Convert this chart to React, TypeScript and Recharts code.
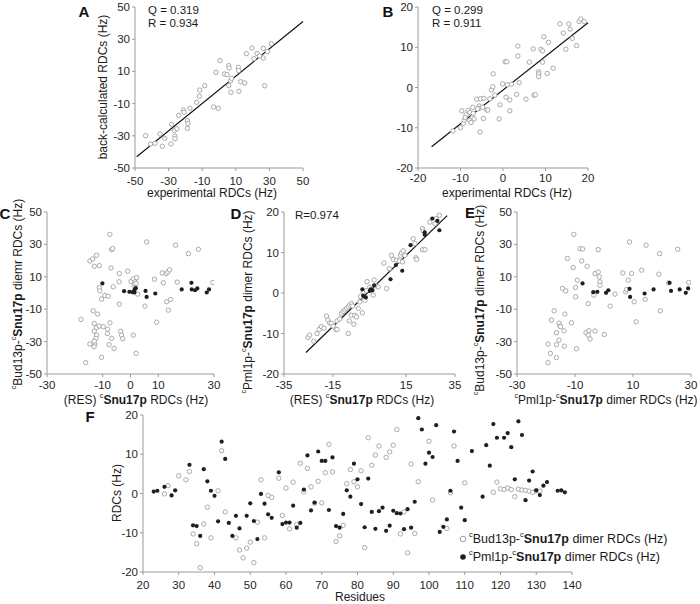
import React from 'react';
import { ScatterChart, Scatter, XAxis, YAxis, ReferenceLine } from 'recharts';

// ---------- DATA ----------
// Panel A: experimental vs back-calculated RDCs (Hz)
const panelAPoints = [
  [-43.7, -29.9], [-40.7, -35.1], [-38.1, -34.7], [-35.1, -28.9], [-33.7, -36.5], [-32.3, -31.6],
  [-28.6, -35.1], [-28.2, -22.9], [-26.6, -26.8], [-26.2, -30.3], [-26.2, -31.8], [-25.0, -25.6],
  [-24.0, -17.3], [-21.2, -14.0], [-20.8, -15.4], [-18.8, -20.6], [-18.5, -22.3], [-18.8, -25.4],
  [-17.3, -12.9], [-13.3, -9.2], [-11.7, -5.5], [-11.5, -1.6], [-8.5, 1.1], [-3.2, -12.1],
  [-0.4, -12.9], [-1.8, 9.4], [0.6, 16.7], [3.2, 8.4], [4.8, 8.0], [5.8, 13.6], [6.0, 12.1],
  [5.8, 1.1], [7.1, -3.0], [6.9, 4.2], [7.5, 5.7], [11.5, 12.5], [11.7, 10.5], [11.9, -2.4],
  [12.9, 3.6], [15.3, 2.8], [16.3, 21.0], [19.6, 24.5], [20.8, 17.9], [22.6, 21.2], [24.2, 19.6],
  [26.4, 24.3], [26.4, 18.3], [27.2, 1.1], [28.8, 22.3], [31.2, 27.2],
];
const fitA = [[-49, -43], [50, 41]];
const ticksA = [-50, -30, -10, 10, 30, 50];

// Panel B
const panelBPoints = [
  [-11.8, -10.8], [-10.0, -10.0], [-9.3, -8.9], [-9.1, -8.1], [-9.7, -5.8], [-8.7, -6.8], [-8.9, -7.5],
  [-8.2, -5.7], [-7.8, -6.2], [-7.8, -8.1], [-7.5, -8.7], [-7.2, -7.4], [-7.1, -4.9], [-6.8, -7.8],
  [-6.2, -2.9], [-5.6, -4.6], [-5.6, -5.2], [-5.4, -11.1], [-5.3, -2.8], [-4.6, -7.7], [-4.5, -2.7],
  [-4.8, -4.9], [-3.8, -5.6], [-3.6, -5.6], [-3.1, -2.8], [-2.7, -0.6], [-2.4, 0.2], [-2.3, 3.4],
  [-1.9, -1.9], [-0.9, -7.8], [-0.7, -4.3], [-0.1, 0.9], [0.5, 6.4], [0.9, 6.4], [0.7, -2.4],
  [1.0, 0.7], [1.6, -3.1], [1.6, -5.8], [2.0, 0.8], [3.2, -1.7], [3.5, 7.8], [3.5, 10.3], [3.8, 1.2],
  [5.4, -2.9], [6.2, 6.3], [7.1, 9.6], [7.3, -1.9], [7.6, -1.8], [8.4, 3.9], [8.4, 3.4], [8.4, 2.7],
  [8.9, 9.5], [9.3, 9.1], [9.3, 6.3], [9.6, 12.6], [10.4, 3.5], [10.7, 11.2], [11.8, 4.8], [13.4, 15.8],
  [14.2, 13.5], [14.8, 9.5], [15.5, 15.8], [15.8, 14.5], [16.3, 12.2], [17.3, 10.4], [17.9, 16.4],
  [18.3, 17.0], [19.1, 16.4], [-7.0, -6.4], [-6.0, -5.3],
];
const fitB = [[-16.8, -14.7], [20, 16.1]];
const ticksB = [-20, -10, 0, 10, 20];

// Panel C
const panelCGray = [
  [-17.8, -16.3], [-14.6, 19.8], [-13.6, 21.0], [-12.2, 23.3], [-13.0, 16.5], [-11.2, 16.9], [-11.2, 3.2],
  [-11.0, 1.3], [-10.4, -3.8], [-13.4, -11.0], [-11.8, -13.0], [-14.6, -31.5], [-12.8, -31.5],
  [-13.0, -23.5], [-12.2, -21.3], [-13.0, -18.8], [-11.2, -20.4], [-9.8, -20.8], [-12.2, -26.0],
  [-12.4, -28.0], [-13.0, -29.7], [-13.1, -33.2], [-10.4, -39.7], [-16.1, -43.0], [-9.2, -1.5],
  [-8.0, -2.0], [-7.4, 36.2], [-6.8, 26.8], [-6.4, 27.4], [-7.0, 15.5], [-6.2, 3.8], [-7.4, -18.4],
  [-8.3, -25.0], [-8.2, -22.3], [-7.7, -31.9], [-6.8, -28.0], [-5.9, -34.2], [-4.0, 12.0], [-4.1, 6.9],
  [-4.0, -6.9], [-3.5, -23.7], [-3.2, -26.0], [-2.8, -28.2], [-1.0, 13.5], [0.2, 7.1], [1.0, 8.7],
  [1.6, 6.9], [1.3, 5.4], [1.6, 3.4], [2.2, 9.5], [2.0, 5.9], [2.6, -0.7], [1.0, -26.0], [2.0, -37.3],
  [5.8, 31.5], [5.2, -8.1], [8.6, 8.5], [9.4, -18.0], [11.8, 6.3], [11.4, 12.4], [12.8, 12.0],
  [13.4, 13.0], [14.0, 14.3], [16.2, 29.5], [16.8, 6.7], [13.0, -5.4], [13.6, -10.6], [14.4, -4.0],
  [20.8, 24.3], [24.4, 27.0], [29.6, 6.5],
];
const panelCBlack = [
  [-10.1, 5.9], [-2.3, 1.1], [-0.4, 0.7], [0.8, 0.5], [1.3, 1.3], [1.6, 2.4], [1.9, 3.0], [1.4, 0.3],
  [5.4, 1.3], [5.8, -2.4], [8.9, -0.3], [18.4, 2.2], [21.9, 6.3], [22.0, 2.2], [23.2, 1.7], [24.0, 2.8],
  [27.4, 0.3], [28.2, 2.2],
];
const ticksCX = [-30, -10, 0, 10, 30];
const ticksCY = [-50, -30, -10, 10, 30, 50];

// Panel D
const panelDGray = [
  [-25.2, -11.0], [-24.5, -10.4], [-22.8, -11.9], [-21.5, -10.0], [-20.6, -9.0], [-19.7, -8.3],
  [-18.6, -8.7], [-17.6, -5.7], [-17.0, -6.7], [-16.3, -7.4], [-15.6, -7.5], [-14.9, -8.2], [-13.8, -9.0],
  [-13.3, -9.0], [-13.3, -6.9], [-12.2, -6.4], [-11.5, -5.1], [-10.8, -4.6], [-10.1, -4.2], [-9.4, -3.8],
  [-8.7, -3.4], [-8.1, -3.0], [-7.4, -2.6], [-7.0, -3.2], [-8.7, -10.0], [-8.3, -6.9], [-7.4, -5.5],
  [-6.4, -7.7], [-6.0, -5.5], [-5.3, -5.9], [-4.6, -3.8], [-4.0, -2.2], [-3.7, -0.9], [-2.9, -4.9],
  [-2.6, 0.3], [-1.9, -1.8], [-1.2, 0.6], [-1.0, 2.8], [0.1, 1.4], [0.8, 0.8], [1.5, -0.5], [1.9, 3.2],
  [2.9, 1.7], [3.6, 1.5], [5.9, 7.4], [7.0, 1.1], [8.1, 6.0], [9.0, 9.3], [9.7, 8.3], [11.1, 8.1],
  [12.2, 7.9], [12.7, 9.3], [13.1, 9.9], [13.5, 7.7], [13.8, 10.4], [14.5, 9.3], [17.9, 13.4],
  [18.6, 12.2], [19.0, 8.7], [19.3, 8.3], [21.7, 10.7], [22.7, 10.7], [21.7, 15.9], [22.0, 15.3],
  [24.7, 17.5], [26.8, 17.1], [28.6, 19.2], [27.2, 18.4],
];
const panelDBlack = [
  [-2.9, 0.9], [-2.6, -0.7], [-1.5, -1.1], [0.1, 0.5], [0.5, 0.9], [1.2, 0.7], [1.9, 1.9], [8.6, 3.4],
  [10.8, 6.9], [13.4, 5.5], [16.8, 11.8], [22.6, 15.0], [22.6, 14.4], [25.7, 18.4], [27.8, 17.8],
  [28.6, 15.5],
];
const fitD = [[-26, -14.7], [31.8, 19.1]];
const ticksDX = [-35, -15, 15, 35];
const ticksDY = [-20, -10, 0, 10, 20];

// Panel E
const panelEGray = [
  [-19.3, -31.5], [-18.5, -37.3], [-19.3, -43.0], [-18.1, -16.7], [-17.2, -11.0], [-16.4, -24.5],
  [-16.4, -31.9], [-15.5, -29.1], [-15.5, -18.6], [-15.2, -20.4], [-15.0, -20.8], [-16.4, -39.9],
  [-14.3, 2.8], [-13.2, 1.3], [-13.8, -23.3], [-13.7, -32.8], [-13.5, -13.0], [-12.6, 21.3],
  [-11.2, -18.4], [-10.6, 15.7], [-10.4, 36.2], [-9.8, -2.4], [-9.8, 3.4], [-9.5, -34.4], [-9.2, 7.9],
  [-8.3, 27.4], [-7.7, 19.8], [-7.4, 27.2], [-6.2, -24.5], [-5.8, 16.5], [-5.4, -6.5], [-5.4, -26.0],
  [-5.2, -23.3], [-4.8, -28.4], [-3.1, -23.5], [-3.5, -1.3], [-3.1, 12.0], [-2.0, 13.0], [-2.0, 26.8],
  [-1.6, 9.9], [-1.4, 6.9], [-1.4, 4.8], [0.1, -25.6], [2.1, -8.1], [3.8, -0.7], [6.5, 12.4], [7.5, 0.7],
  [8.4, 7.9], [8.8, 31.5], [9.5, 12.0], [10.4, -5.4], [11.1, -17.8], [13.0, 14.1], [14.2, -3.9],
  [14.5, 29.5], [18.9, 11.6], [19.2, 24.3], [19.4, -11.0], [22.3, 6.3], [25.4, 27.0], [29.2, 6.5],
  [7.8, 2.2],
];
const panelEBlack = [
  [-7.4, 5.9], [-3.7, 0.5], [-2.3, 0.7], [0.7, 0.1], [1.5, 1.7], [8.8, 2.6], [9.0, -2.4], [14.0, -0.3],
  [17.1, 2.2], [22.6, 6.3], [23.1, 1.3], [26.1, 2.2], [28.2, 0.1], [29.0, 2.8],
];
const ticksEX = [-30, -10, 10, 30];
const ticksEY = [-50, -30, -10, 10, 30, 50];

// Panel F: residue vs RDC
const residuesBud13 = [
  [26, -0.1], [27, 2.0], [30, 4.5], [32, 3.5], [33, 5.6], [34, -10.3], [35, -12.8], [36, -18.9], [37, -7.8],
  [38, -3.5], [39, -11.3], [41, 0.7], [42, 10.9], [43, -4.7], [46, -11.3], [47, -14.4], [48, -16.4],
  [49, -13.9], [50, -12.4], [51, -17.6], [52, -7.3], [53, 3.5], [54, -11.3], [55, -0.5], [56, -1.0],
  [58, 3.9], [59, -5.6], [60, 1.4], [61, -9.0], [62, 2.9], [63, -7.9], [64, 7.7], [65, 0.4], [66, 6.4],
  [67, 1.7], [68, -2.5], [69, 3.1], [70, -2.4], [71, 5.3], [72, 12.5], [73, 5.5], [74, -12.2], [75, -10.8],
  [76, -8.1], [77, 2.5], [78, 6.1], [79, 3.0], [80, 1.7], [81, 5.8], [82, -13.8], [83, 14.2], [84, 7.2],
  [85, 9.8], [86, 12.1], [88, 9.2], [89, 10.6], [90, 12.3], [91, 16.3], [92, -10.3], [93, -4.7],
  [94, -15.1], [95, 7.5], [96, -10.2], [97, 3.0], [100, 13.3], [101, -1.7], [105, -8.9], [106, 0.2],
  [107, 12.1], [110, 2.7], [118, 0.3], [119, 2.9], [120, 1.2], [121, 1.0], [122, 1.4], [123, 1.0],
  [124, -0.8], [125, 1.1], [126, 0.9], [127, 0.8], [128, 0.6], [129, 0.3], [130, 0.7], [131, 0.6],
];
const residuesPml1 = [
  [23, 0.5], [24, 0.7], [26, 1.7], [28, -0.5], [29, 0.8], [33, 7.3], [34, -8.1], [35, -8.3], [36, -10.8],
  [37, 6.2], [38, 3.1], [39, 0.7], [40, -0.6], [41, -7.1], [42, 13.2], [43, 8.8], [44, -7.5], [45, -10.8],
  [46, -5.7], [47, -8.9], [49, -5.7], [50, -2.5], [51, -7.0], [52, -11.6], [53, -0.1], [54, -2.6],
  [55, -5.3], [56, -6.2], [58, 5.4], [59, -7.8], [60, -7.4], [61, -7.4], [62, -3.1], [63, -8.7],
  [64, -7.5], [65, 1.0], [66, 9.7], [67, -4.3], [68, -2.3], [69, 10.7], [70, 8.3], [71, 8.3], [72, -4.2],
  [73, 9.2], [74, -8.3], [75, -8.7], [76, -5.2], [77, 0.8], [78, -0.8], [79, 7.6], [80, 3.6], [81, -2.7],
  [82, -8.6], [83, 3.8], [84, -4.7], [85, -9.0], [86, -4.5], [87, -3.6], [88, -9.5], [89, -8.2],
  [90, -4.4], [91, -5.0], [92, -5.1], [93, -9.1], [94, -4.0], [95, -8.7], [96, -2.1], [97, 19.2],
  [98, 16.3], [99, 7.6], [100, 10.4], [101, 9.3], [102, 17.4], [103, -9.8], [104, -8.5], [105, -6.6],
  [106, 0.7], [107, 15.8], [108, 8.3], [109, -3.6], [110, -6.8], [112, 10.8], [115, -0.8], [116, 12.3],
  [117, 7.1], [118, 17.7], [119, 14.2], [121, 14.2], [122, 15.4], [123, 11.8], [124, 3.6], [125, 18.4],
  [126, 14.9], [127, -1.7], [128, 3.3], [129, 5.6], [130, 0.8], [131, -0.4], [132, 2.0], [133, 2.9],
  [136, 0.7], [137, 0.8], [138, 0.3],
];
const ticksFX = [20, 30, 40, 50, 60, 70, 80, 90, 100, 110, 120, 130, 140];
const ticksFY = [-20, -10, 0, 10, 20];

// ---------- STYLE ----------
const FONT = '"Liberation Sans", Arial, Helvetica, sans-serif';
const AXIS = '#9a9a9a';
const TICK_FS = 11.5;
const TITLE_FS = 12;
const W = 700;
const H = 604;

const toPts = (arr: number[][]) => arr.map(([x, y]) => ({ x, y }));
const toSeg = (arr: number[][]) => arr.map(([x, y]) => ({ x, y }));

const GrayDot = (p: any) => (
  <circle cx={p.cx} cy={p.cy} r={2.2} fill="#ffffff" stroke="#a0a0a0" strokeWidth={0.9} />
);
const BlackDot = (p: any) => <circle cx={p.cx} cy={p.cy} r={2.1} fill="#1f1f1f" />;

type PanelProps = {
  box: [number, number, number, number];
  xDomain: [number, number];
  yDomain: [number, number];
  xTicks: number[];
  yTicks: number[];
  gray?: number[][];
  black?: number[][];
  fit?: number[][];
  xTickMargin: number;
};

function Panel({ box, xDomain, yDomain, xTicks, yTicks, gray, black, fit, xTickMargin }: PanelProps) {
  const [x0, y0, x1, y1] = box;
  const yW = 40;
  const xH = 30;
  return (
    <div style={{ position: 'absolute', left: 0, top: 0, pointerEvents: 'none' }}>
      <ScatterChart
        width={W}
        height={H}
        margin={{ left: x0 - yW, top: y0, right: W - x1, bottom: H - y1 - xH }}
      >
        <XAxis
          type="number"
          dataKey="x"
          domain={xDomain}
          ticks={xTicks}
          interval={0}
          allowDataOverflow
          height={xH}
          axisLine={{ stroke: AXIS }}
          tickLine={{ stroke: AXIS }}
          tickSize={3}
          tickMargin={xTickMargin}
          tick={{ fontSize: TICK_FS, fill: '#262626', fontFamily: FONT }}
        />
        <YAxis
          type="number"
          dataKey="y"
          domain={yDomain}
          ticks={yTicks}
          interval={0}
          allowDataOverflow
          width={yW}
          axisLine={{ stroke: AXIS }}
          tickLine={{ stroke: AXIS }}
          tickSize={3}
          tickMargin={2}
          tick={{ fontSize: TICK_FS, fill: '#262626', fontFamily: FONT }}
        />
        {gray && (
          <Scatter data={toPts(gray)} shape={GrayDot} isAnimationActive={false} />
        )}
        {black && (
          <Scatter data={toPts(black)} shape={BlackDot} isAnimationActive={false} />
        )}
        {fit && (
          <ReferenceLine
            segment={toSeg(fit) as any}
            stroke="#111111"
            strokeWidth={1.2}
            ifOverflow="visible"
          />
        )}
      </ScatterChart>
    </div>
  );
}

// rich text with superscript "c" and bold parts
type Part = { t: string; sup?: boolean; b?: boolean };
function Rich({ parts, fs }: { parts: Part[]; fs: number }) {
  const shift = fs * 0.38;
  let raised = false;
  const out: React.ReactNode[] = [];
  parts.forEach((p, i) => {
    let dy = 0;
    if (p.sup && !raised) {
      dy = -shift;
      raised = true;
    } else if (!p.sup && raised) {
      dy = shift;
      raised = false;
    }
    out.push(
      <tspan
        key={i}
        dy={dy}
        fontSize={p.sup ? fs * 0.6 : fs}
        fontWeight={p.b ? 'bold' : 'normal'}
      >
        {p.t}
      </tspan>
    );
  });
  return <>{out}</>;
}

const budSnu = (dimerWord: string): Part[] => [
  { t: 'c', sup: true },
  { t: 'Bud13p-' },
  { t: 'c', sup: true },
  { t: 'Snu17p', b: true },
  { t: ` ${dimerWord} RDCs (Hz)` },
];
const pmlSnu: Part[] = [
  { t: 'c', sup: true },
  { t: 'Pml1p-' },
  { t: 'c', sup: true },
  { t: 'Snu17p', b: true },
  { t: ' dimer RDCs (Hz)' },
];
const resSnu: Part[] = [
  { t: '(RES) ' },
  { t: 'c', sup: true },
  { t: 'Snu17p', b: true },
  { t: ' RDCs (Hz)' },
];

function HText({ x, y, parts, fs = TITLE_FS, anchor = 'middle' }: any) {
  return (
    <text x={x} y={y} textAnchor={anchor} dominantBaseline="central" fontSize={fs} fill="#1a1a1a" fontFamily={FONT}>
      <Rich parts={parts} fs={fs} />
    </text>
  );
}
function VText({ x, y, parts, fs = TITLE_FS }: any) {
  return (
    <text
      x={x}
      y={y}
      transform={`rotate(-90 ${x} ${y})`}
      textAnchor="middle"
      dominantBaseline="central"
      fontSize={fs}
      fill="#1a1a1a"
      fontFamily={FONT}
    >
      <Rich parts={parts} fs={fs} />
    </text>
  );
}
function Letter({ x, y, t }: { x: number; y: number; t: string }) {
  return (
    <text x={x} y={y} textAnchor="middle" dominantBaseline="central" fontSize={15} fontWeight="bold" fill="#111" fontFamily={FONT}>
      {t}
    </text>
  );
}

export default function App() {
  return (
    <div style={{ position: 'absolute', left: 0, top: 0, width: W, height: H, background: '#fff', fontFamily: FONT, overflow: 'hidden' }}>
      <Panel box={[135, 7, 303, 168]} xDomain={[-50, 50]} yDomain={[-50, 50]} xTicks={ticksA} yTicks={ticksA} gray={panelAPoints} fit={fitA} xTickMargin={6} />
      <Panel box={[418, 7, 588, 168]} xDomain={[-20, 20]} yDomain={[-20, 20]} xTicks={ticksB} yTicks={ticksB} gray={panelBPoints} fit={fitB} xTickMargin={3} />
      <Panel box={[47, 212, 214, 374]} xDomain={[-30, 30]} yDomain={[-50, 50]} xTicks={ticksCX} yTicks={ticksCY} gray={panelCGray} black={panelCBlack} xTickMargin={4} />
      <Panel box={[284, 212, 455, 374]} xDomain={[-35, 35]} yDomain={[-20, 20]} xTicks={ticksDX} yTicks={ticksDY} gray={panelDGray} black={panelDBlack} fit={fitD} xTickMargin={4} />
      <Panel box={[517, 212, 691, 374]} xDomain={[-30, 30]} yDomain={[-50, 50]} xTicks={ticksEX} yTicks={ticksEY} gray={panelEGray} black={panelEBlack} xTickMargin={4} />
      <Panel box={[143, 415, 572, 572]} xDomain={[20, 140]} yDomain={[-20, 20]} xTicks={ticksFX} yTicks={ticksFY} gray={residuesBud13} black={residuesPml1} xTickMargin={6} />

      <svg width={W} height={H} style={{ position: 'absolute', left: 0, top: 0, pointerEvents: 'none' }}>
        <Letter x={84} y={11} t="A" />
        <Letter x={388} y={11} t="B" />
        <Letter x={5} y={213} t="C" />
        <Letter x={236} y={213} t="D" />
        <Letter x={470} y={212} t="E" />
        <Letter x={90} y={416} t="F" />

        <HText x={148} y={10} anchor="start" fs={TICK_FS} parts={[{ t: 'Q = 0.319' }]} />
        <HText x={148} y={23} anchor="start" fs={TICK_FS} parts={[{ t: 'R = 0.934' }]} />
        <HText x={432} y={10} anchor="start" fs={TICK_FS} parts={[{ t: 'Q = 0.299' }]} />
        <HText x={432} y={23} anchor="start" fs={TICK_FS} parts={[{ t: 'R = 0.911' }]} />
        <HText x={295} y={215} anchor="start" fs={TICK_FS} parts={[{ t: 'R=0.974' }]} />

        <VText x={103} y={87} parts={[{ t: 'back-calculated RDCs (Hz)' }]} />
        <HText x={212} y={193} parts={[{ t: 'experimental RDCs (Hz)' }]} />
        <HText x={507} y={193} parts={[{ t: 'experimental RDCs (Hz)' }]} />

        <VText x={18} y={294} parts={budSnu('diemr')} />
        <HText x={136} y={400} parts={resSnu} />
        <VText x={248} y={302} parts={pmlSnu} />
        <HText x={362} y={400} parts={resSnu} />
        <VText x={480} y={300} parts={budSnu('dimer')} />
        <HText x={606} y={400} parts={pmlSnu} />

        <VText x={117} y={493} parts={[{ t: 'RDCs (Hz)' }]} />
        <HText x={360} y={597} parts={[{ t: 'Residues' }]} />

        <circle cx={463} cy={539} r={2.8} fill="#fff" stroke="#9c9c9c" strokeWidth={1} />
        <HText x={469} y={539} anchor="start" fs={12.5} parts={budSnu('dimer')} />
        <circle cx={463} cy={557} r={2.8} fill="#1f1f1f" />
        <HText x={469} y={557} anchor="start" fs={12.5} parts={pmlSnu} />
      </svg>
    </div>
  );
}
